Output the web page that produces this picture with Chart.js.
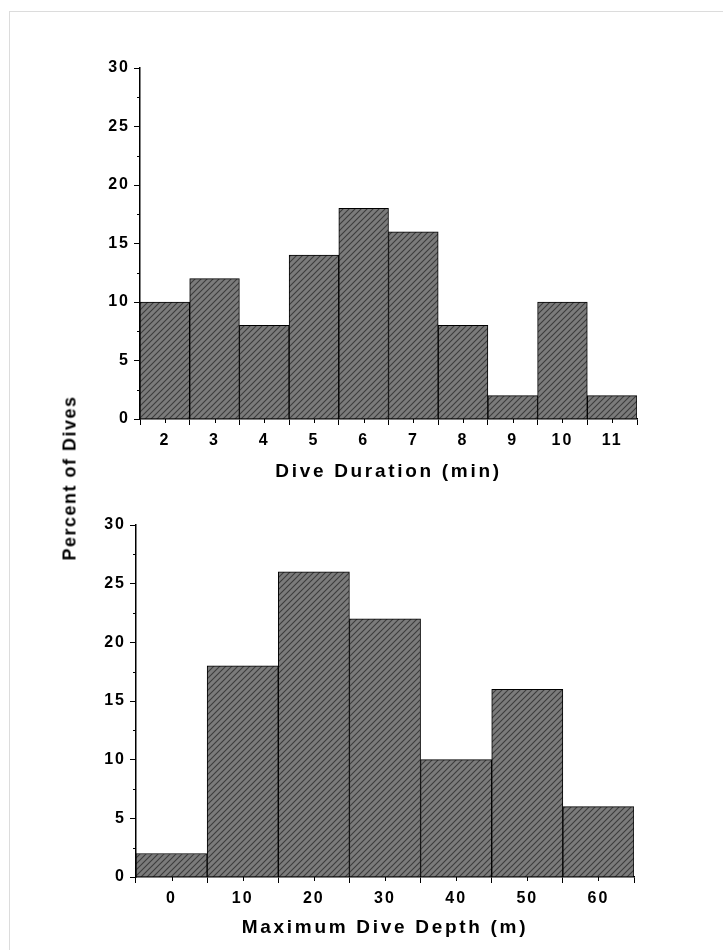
<!DOCTYPE html>
<html>
<head>
<meta charset="utf-8">
<script src="https://cdn.jsdelivr.net/npm/chart.js@4"></script>
<style>
  body { margin: 0; background: #fff; }
  #page { position: relative; width: 723px; height: 950px; overflow: hidden; }
  #frame { position: absolute; left: 9px; top: 11px; right: 0; bottom: 0;
           border-top: 1px solid #dcdcdc; border-left: 1px solid #dcdcdc; }
  .box { position: absolute; left: 0; width: 723px; }
  #topBox { top: 0; height: 490px; }
  #bottomBox { top: 490px; height: 460px; }
  #yTitle { position: absolute; left: 70px; top: 478px; transform: translate(-50%, -50%) rotate(-90deg);
            font: bold 18px "Liberation Sans", Arial, sans-serif; letter-spacing: 1.5px;
            white-space: nowrap; color: #000; }
</style>
</head>
<body>
<div id="page">
  <div id="frame"></div>
  <div class="box" id="topBox"><canvas id="durationChart"></canvas></div>
  <div class="box" id="bottomBox"><canvas id="depthChart"></canvas></div>
  <div id="yTitle">Percent of Dives</div>
</div>
<script>
// dive duration histogram (min)
const durationLabels = ['2', '3', '4', '5', '6', '7', '8', '9', '10', '11'];
const durationValues = [10, 12, 8, 14, 18, 16, 8, 2, 10, 2];

// max dive depth histogram (m)
const depthLabels = ['0', '10', '20', '30', '40', '50', '60'];
const depthValues = [2, 18, 26, 22, 10, 16, 6];

const yTicks = [0, 5, 10, 15, 20, 25, 30];

const FONT = '"Liberation Sans", Arial, sans-serif';

// grey fill with dark diagonal hatching
function hatchPattern() {
    const c = document.createElement('canvas');
    c.width = 6;
    c.height = 6;
    const g = c.getContext('2d');
    g.fillStyle = '#7b7b7b';
    g.fillRect(0, 0, 6, 6);
    g.strokeStyle = '#3c3c3c';
    g.lineWidth = 1.1;
    g.beginPath();
    g.moveTo(-1, 7); g.lineTo(7, -1);
    g.moveTo(-1, 1); g.lineTo(1, -1);
    g.moveTo(5, 7); g.lineTo(7, 5);
    g.stroke();
    return g.createPattern(c, 'repeat');
}

// the original uses widely spaced bold lettering
const spacedText = {
    id: 'spacedText',
    beforeDraw(chart) {
        chart.ctx.letterSpacing = '2px';
    },
    afterDraw(chart) {
        chart.ctx.letterSpacing = '0px';
    }
};

// axis titles get a bit more spacing than the tick labels
function titleSpacing(chart) {
    const x = chart.scales.x;
    const orig = x.drawTitle.bind(x);
    x.drawTitle = function () {
        const ctx = this.ctx;
        const prev = ctx.letterSpacing;
        ctx.letterSpacing = '2.7px';
        orig();
        ctx.letterSpacing = prev;
    };
}

// short ticks: x at bin centres, y at half steps
const minorTicks = {
    id: 'minorTicks',
    afterDraw(chart) {
        const ctx = chart.ctx;
        const x = chart.scales.x;
        const y = chart.scales.y;
        ctx.save();
        ctx.strokeStyle = '#000';
        ctx.lineWidth = 1;
        ctx.beginPath();
        chart.data.labels.forEach((l, i) => {
            const px = Math.round(x.getPixelForValue(i)) + 0.5;
            ctx.moveTo(px, y.bottom);
            ctx.lineTo(px, y.bottom + 4);
        });
        for (let v = 2.5; v < 30; v += 5) {
            const py = Math.round(y.getPixelForValue(v)) + 0.5;
            ctx.moveTo(x.left, py);
            ctx.lineTo(x.left - 3, py);
        }
        ctx.stroke();
        ctx.restore();
    }
};

function makeChart(id, labels, values, title, yWidth, xHeight, titleLift, padding) {
    const ctx = document.getElementById(id).getContext('2d');
    const chart = new Chart(ctx, {
        type: 'bar',
        data: {
            labels: labels,
            datasets: [{
                data: values,
                backgroundColor: hatchPattern(),
                borderColor: '#000',
                borderWidth: 1,
                barPercentage: 1,
                categoryPercentage: 1
            }]
        },
        options: {
            responsive: true,
            maintainAspectRatio: false,
            animation: false,
            layout: { padding: padding },
            plugins: {
                legend: { display: false },
                tooltip: { enabled: false }
            },
            scales: {
                x: {
                    grid: {
                        offset: true,
                        drawOnChartArea: false,
                        drawTicks: true,
                        tickLength: 6,
                        tickColor: '#000'
                    },
                    border: { display: true, color: '#000', width: 1.5 },
                    ticks: {
                        color: '#000',
                        padding: 6,
                        maxRotation: 0,
                        font: { family: FONT, size: 16, weight: 'bold' }
                    },
                    title: {
                        display: true,
                        text: title,
                        color: '#000',
                        padding: { top: 8, bottom: titleLift },
                        font: { family: FONT, size: 19, weight: 'bold' }
                    },
                    afterFit: (s) => { s.height = xHeight; }
                },
                y: {
                    min: 0,
                    max: 30,
                    afterBuildTicks: (s) => { s.ticks = yTicks.map(v => ({ value: v })); },
                    grid: {
                        drawOnChartArea: false,
                        drawTicks: true,
                        tickLength: 6,
                        tickColor: '#000'
                    },
                    border: { display: true, color: '#000', width: 1.5 },
                    ticks: {
                        color: '#000',
                        padding: 4,
                        font: { family: FONT, size: 16, weight: 'bold' }
                    },
                    afterFit: (s) => { s.width = yWidth; }
                }
            }
        },
        plugins: [spacedText, minorTicks]
    });
    titleSpacing(chart);
    chart.draw();
    return chart;
}

makeChart('durationChart', durationLabels, durationValues, 'Dive Duration (min)', 140, 71, 7,
    { left: 0, top: 68, right: 86, bottom: 0 });
makeChart('depthChart', depthLabels, depthValues, 'Maximum Dive Depth (m)', 136, 73, 11,
    { left: 0, top: 35, right: 89, bottom: 0 });
</script>
</body>
</html>
